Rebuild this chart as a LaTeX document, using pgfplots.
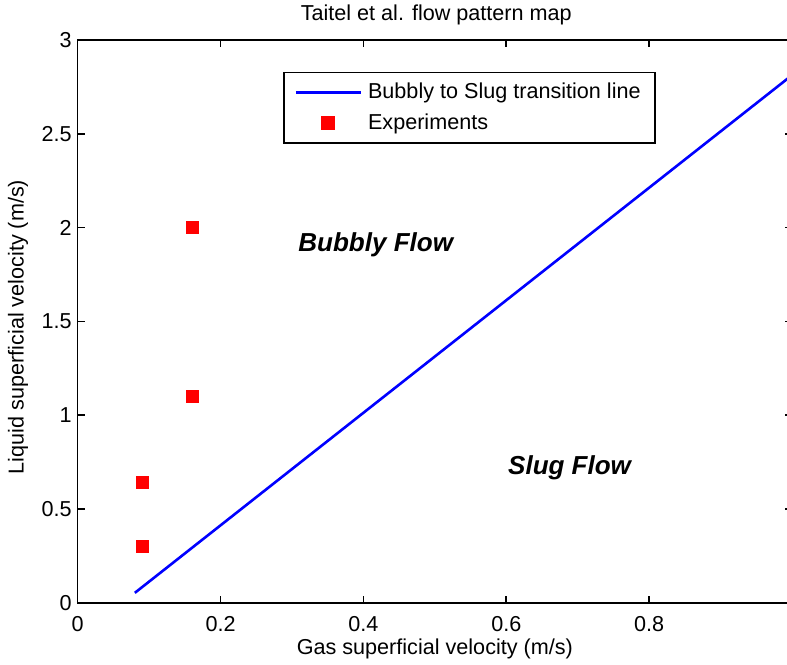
\documentclass[border=0pt]{standalone}
\usepackage{fontspec}
\setmainfont{Liberation Sans}
\usepackage{pgfplots}
\pgfplotsset{compat=1.18}

\definecolor{mlblue}{RGB}{0,0,255}
\definecolor{mlred}{RGB}{255,0,0}

\begin{document}
\begin{tikzpicture}[font=\fontsize{10.8pt}{13pt}\selectfont]
\begin{axis}[
  scale only axis,
  width=357.15pt, height=281.35pt,
  xmin=0, xmax=1, ymin=0, ymax=3,
  xtick={0,0.2,0.4,0.6,0.8},
  ytick={0,0.5,1,1.5,2,2.5,3},
  extra x ticks={1}, extra x tick labels={},
  /pgf/number format/assume math mode=true,
  tick align=inside,
  major tick length=3.5pt,
  axis line style={line width=0.8pt},
  every tick/.style={line width=0.8pt, black},
  tick label style={font=\fontsize{10.8pt}{13pt}\selectfont},
  x tick label style={yshift=-3.2pt},
  y tick label style={xshift=0.5pt},
  title={Taitel et al. flow pattern map},
  every axis title/.style={at={(axis description cs:0.502,1.0444)}, anchor=center, font=\fontsize{10.8pt}{13pt}\selectfont},
  xlabel={Gas superficial velocity (m/s)},
  xlabel style={at={(axis description cs:0.5,-0.083)}, anchor=center, font=\fontsize{10.8pt}{13pt}\selectfont},
  ylabel={Liquid superficial velocity (m/s)},
  ylabel style={at={(axis description cs:-0.0836,0.49)}, anchor=center, font=\fontsize{10.8pt}{13pt}\selectfont},
  legend image code/.code={%
    \draw[mark repeat=2,mark phase=2,#1] plot coordinates {(0pt,0pt) (16.25pt,0pt) (32.5pt,0pt)};},
  legend style={
    at={(rel axis cs:0.2878,0.9437)}, anchor=north west,
    draw=black, line width=0.8pt, fill=white,
    inner xsep=5.2pt, inner ysep=3.4pt, row sep=1.8pt,
    /tikz/every odd column/.append style={column sep=1pt},
    cells={anchor=west},
    font=\fontsize{10.8pt}{13pt}\selectfont,
  },
]
% Bubbly-to-slug transition: U_LS = 3.0 U_GS - 0.1875
\addplot[mlblue, line width=1.3pt] coordinates {
  (0.08,0.0525) (1.0,2.8125)
};
\addlegendentry{Bubbly to Slug transition line}

% measured operating points
\addplot[only marks, mark=square*, mark size=3pt, mlred, mark options={fill=mlred, draw=mlred}] coordinates {
  (0.09,0.30) (0.09,0.64) (0.16,1.10) (0.16,2.00)
};
\addlegendentry{Experiments}

\node at (axis cs:0.4172,1.906) {\fontsize{13pt}{15pt}\selectfont\bfseries\itshape Bubbly Flow};
\node at (axis cs:0.6886,0.720) {\fontsize{13pt}{15pt}\selectfont\bfseries\itshape Slug Flow};
\end{axis}
\pgfresetboundingbox
\useasboundingbox ([xshift=-38.85pt,yshift=-30.65pt]current axis.south west)
  rectangle ([xshift=-2.5pt,yshift=20pt]current axis.north east);
\end{tikzpicture}
\end{document}
